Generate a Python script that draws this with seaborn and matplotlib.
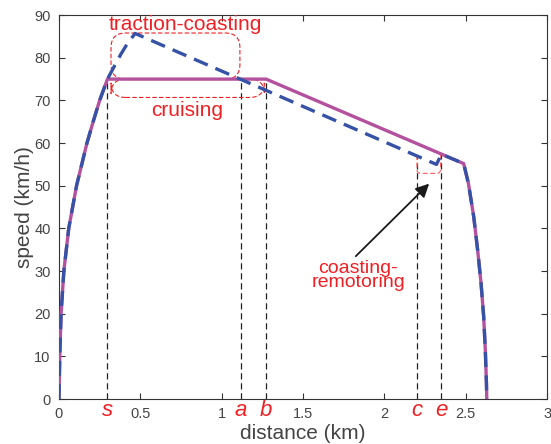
import matplotlib
matplotlib.use('Agg')
import matplotlib.pyplot as plt
import seaborn as sns
import pandas as pd
from matplotlib.patches import FancyBboxPatch, PathPatch
from matplotlib.path import Path
import matplotlib.transforms as mtransforms

# speed profiles (distance in km, speed in km/h)
dist_cruise = [0, 0.005, 0.013, 0.030, 0.060, 0.108, 0.172, 0.210, 0.250, 0.298,
               1.273, 2.487, 2.516, 2.549, 2.573, 2.594, 2.610, 2.620, 2.627, 2.629]
speed_cruise = [0, 10, 20, 30, 40, 50, 60, 65, 70, 75,
                75, 55.2, 50.6, 42.7, 34.9, 27.1, 19.3, 11.5, 3.7, 0]

dist_coast = [0, 0.005, 0.013, 0.030, 0.060, 0.108, 0.172, 0.210, 0.250, 0.298,
              0.34, 0.38, 0.42, 0.468, 2.32, 2.35,
              2.487, 2.516, 2.549, 2.573, 2.594, 2.610, 2.620, 2.627, 2.629]
speed_coast = [0, 10, 20, 30, 40, 50, 60, 65, 70, 75,
               78.0, 80.8, 83.3, 85.7, 55.0, 57.4,
               55.2, 50.6, 42.7, 34.9, 27.1, 19.3, 11.5, 3.7, 0]

# switching points
point_names = ['s', 'a', 'b', 'c', 'e']
point_dist = [0.298, 1.117, 1.273, 2.20, 2.35]
point_speed = [75, 75, 75, 57.1, 57.4]

x_ticks = [0, 0.5, 1, 1.5, 2, 2.5, 3]
y_ticks = list(range(0, 100, 10))

red = '#ee2024'

sns.set_style('ticks')
plt.rcParams['font.family'] = ['Liberation Sans', 'DejaVu Sans']

fig = plt.figure(figsize=(5.51, 4.44), dpi=100)
ax = fig.add_axes([0.107, 0.101, 0.886, 0.865])

ax.vlines(point_dist, 0, point_speed, colors='#222222', linewidth=0.9,
          linestyles=(0, (5, 3)), zorder=1)

df_c = pd.DataFrame({'distance': dist_cruise, 'speed': speed_cruise})
df_k = pd.DataFrame({'distance': dist_coast, 'speed': speed_coast})
sns.lineplot(data=df_c, x='distance', y='speed', ax=ax, color='#b3519f',
             linewidth=2.4, sort=False, estimator=None, zorder=3)
sns.lineplot(data=df_k, x='distance', y='speed', ax=ax, color='#3552a6',
             linewidth=2.4, linestyle=(0, (4.5, 2.5)), sort=False,
             estimator=None, zorder=4)

# rounded dashed boxes (aspect: km/h per km on screen)
asp = (1 / 4.267) / (1 / 162.3)
for x0, x1, y0, y1 in [(0.32, 1.112, 75, 85.8), (0.32, 1.262, 70.7, 75)]:
    ax.add_patch(FancyBboxPatch((x0, y0), x1 - x0, y1 - y0,
                                boxstyle='round,pad=0,rounding_size=0.09',
                                mutation_aspect=asp, fill=False, edgecolor=red,
                                linewidth=0.8, linestyle=(0, (4, 2)), zorder=2))

# small U-shaped box near c-e
bx0, bx1, by0, by1 = 2.20, 2.345, 52.9, 57.2
rx = 0.025
ry = rx * asp
verts = [(bx0, by1), (bx0, by0 + ry), (bx0, by0), (bx0 + rx, by0),
         (bx1 - rx, by0), (bx1, by0), (bx1, by0 + ry), (bx1, by1)]
codes = [Path.MOVETO, Path.LINETO, Path.CURVE3, Path.CURVE3,
         Path.LINETO, Path.CURVE3, Path.CURVE3, Path.LINETO]
ax.add_patch(PathPatch(Path(verts, codes), fill=False, edgecolor='#ff6a6a',
                       linewidth=0.9, linestyle=(0, (4, 2)), zorder=2))

ax.text(0.774, 87.9, 'traction-coasting', color=red, fontsize=15,
        ha='center', va='center', zorder=5)
ax.text(0.789, 67.7, 'cruising', color=red, fontsize=15,
        ha='center', va='center', zorder=5)
ax.text(1.84, 29.0, 'coasting-\nremotoring', color=red, fontsize=14,
        ha='center', va='center', linespacing=0.8, zorder=5)
ax.annotate('', xy=(2.275, 50.5), xytext=(1.824, 33.5),
            arrowprops=dict(arrowstyle='-|>', color='#1a1a1a', lw=1.3,
                            mutation_scale=20, shrinkA=0, shrinkB=0), zorder=5)

trans = mtransforms.blended_transform_factory(ax.transData, ax.transAxes)
for name, xd in zip(point_names, point_dist):
    ax.text(xd, -0.03, name, transform=trans, color=red, fontsize=16,
            style='italic', ha='center', va='center')

ax.set_xlim(0, 3)
ax.set_ylim(0, 90)
ax.set_xticks(x_ticks)
ax.set_xticklabels(['0', '0.5', '1', '1.5', '2', '2.5', '3'])
ax.set_yticks(y_ticks)
ax.tick_params(direction='in', top=True, right=True, length=4, width=0.8,
               labelsize=10.5, colors='#333333', labelcolor='#444444', pad=6)
for sp in ax.spines.values():
    sp.set_visible(True)
    sp.set_color('#333333')
    sp.set_linewidth(0.8)
ax.set_xlabel('distance (km)', fontsize=15, color='#444444', labelpad=2)
ax.set_ylabel('speed (km/h)', fontsize=15, color='#444444', labelpad=0.5)

fig.savefig('out.png', dpi=100)
